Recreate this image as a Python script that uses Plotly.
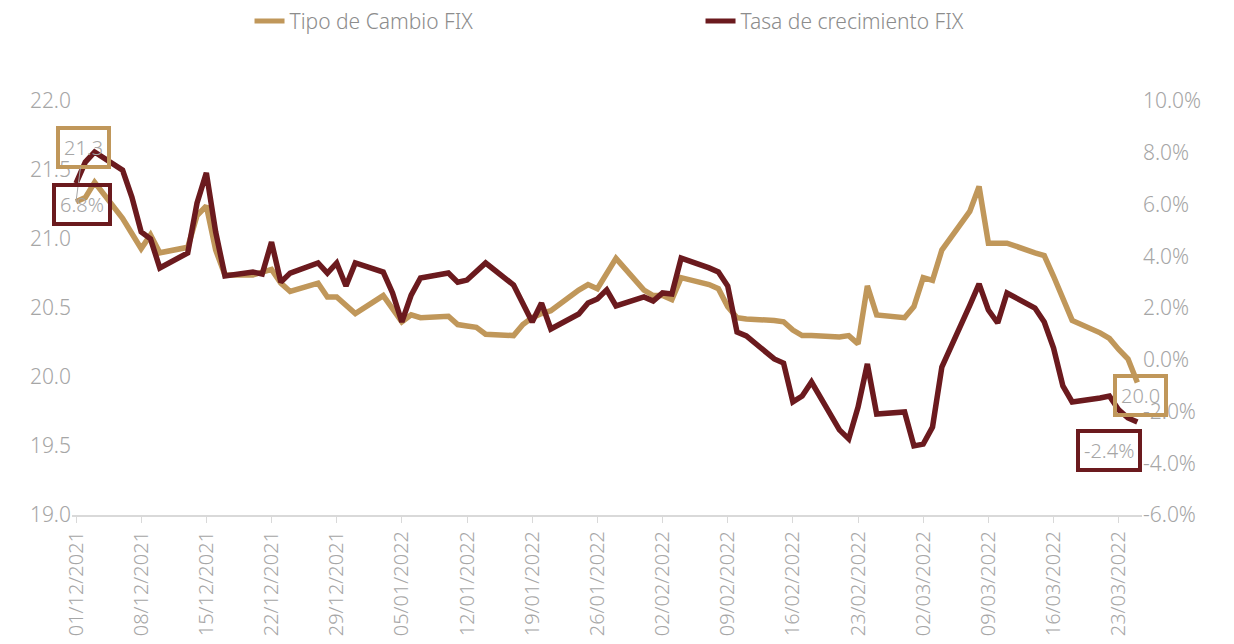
import pandas as pd
import plotly.graph_objects as go

# business days shown on the chart (01/12/2021 - 25/03/2022)
fechas = pd.bdate_range("2021-12-01", "2022-03-25")

tipo_cambio = [
    # dic 2021
    21.27, 21.30, 21.41, 21.15, 21.04, 20.93, 21.03, 20.90, 20.94, 21.17,
    21.24, 20.92, 20.74, 20.74, 20.76, 20.78, 20.68, 20.62, 20.68, 20.58,
    20.58, 20.52, 20.46,
    # ene 2022
    20.59, 20.50, 20.40, 20.45, 20.43, 20.44, 20.38, 20.37, 20.36, 20.31,
    20.30, 20.38, 20.43, 20.46, 20.48, 20.63, 20.67, 20.64, 20.76, 20.86,
    20.63,
    # feb 2022
    20.59, 20.59, 20.56, 20.72, 20.67, 20.64, 20.51, 20.43, 20.42, 20.41,
    20.40, 20.34, 20.30, 20.30, 20.29, 20.30, 20.24, 20.66, 20.45, 20.43,
    # mar 2022
    20.51, 20.72, 20.70, 20.92, 21.20, 21.38, 20.97, 20.97, 20.97, 20.90,
    20.88, 20.73, 20.57, 20.41, 20.32, 20.28, 20.20, 20.13, 19.96,
]

tasa_crecimiento = [
    # dic 2021
    6.82, 7.64, 8.03, 7.33, 6.29, 4.94, 4.67, 3.55, 4.13, 6.06,
    7.22, 4.94, 3.24, 3.39, 3.31, 4.55, 3.00, 3.35, 3.74, 3.35,
    3.74, 2.85, 3.74,
    # ene 2022
    3.39, 2.58, 1.46, 2.50, 3.16, 3.35, 3.00, 3.08, 3.43, 3.74,
    2.89, 2.12, 1.46, 2.19, 1.19, 1.77, 2.19, 2.35, 2.70, 2.08,
    2.43,
    # feb 2022
    2.27, 2.58, 2.54, 3.93, 3.55, 3.39, 2.85, 1.07, 0.92, 0.03,
    -0.13, -1.63, -1.40, -0.86, -2.71, -3.06, -1.83, -0.16, -2.10, -2.02,
    # mar 2022
    -3.33, -3.26, -2.60, -0.28, 2.10, 2.93, 1.92, 1.42, 2.58, 2.00,
    1.46, 0.45, -1.01, -1.63, -1.48, -1.40, -1.94, -2.25, -2.41,
]

# axis ticks
ticks_tc = [19.0, 19.5, 20.0, 20.5, 21.0, 21.5, 22.0]
ticks_tasa = [-6, -4, -2, 0, 2, 4, 6, 8, 10]

TAN = "#C0975A"
WINE = "#6B1A1E"
GREY = "#A6A6A6"
FONT = "Noto Sans"

fig = go.Figure()

fig.add_trace(go.Scatter(
    x=fechas, y=tipo_cambio, name="Tipo de Cambio FIX",
    mode="lines", line=dict(color=TAN, width=5.5),
))
fig.add_trace(go.Scatter(
    x=fechas, y=tasa_crecimiento, name="Tasa de crecimiento FIX",
    mode="lines", line=dict(color=WINE, width=5.5), yaxis="y2",
))

label_font = dict(family=FONT, size=20, color=GREY, weight=300)
annotations = [
    # first value of the exchange rate, with a thin leader line
    dict(x=fechas[0], y=tipo_cambio[0], xref="x", yref="y",
         text=f"{tipo_cambio[0]:.1f}", showarrow=True, arrowhead=0,
         arrowwidth=1, arrowcolor=GREY, ax=7, ay=-54, standoff=0,
         bordercolor=TAN, borderwidth=4, borderpad=4, font=label_font),
    dict(x=fechas[0], y=tasa_crecimiento[0], xref="x", yref="y2",
         text=f"{tasa_crecimiento[0]:.1f}%", showarrow=False,
         xshift=6, yshift=-21,
         bordercolor=WINE, borderwidth=4, borderpad=4, font=label_font),
    dict(x=fechas[-1], y=tipo_cambio[-1], xref="x", yref="y",
         text=f"{tipo_cambio[-1]:.1f}", showarrow=False,
         xshift=3, yshift=-13,
         bordercolor=TAN, borderwidth=4, borderpad=4, font=label_font),
    dict(x=fechas[-1], y=tasa_crecimiento[-1], xref="x", yref="y2",
         text=f"{tasa_crecimiento[-1]:.1f}%", showarrow=False,
         xshift=-28, yshift=-28,
         bordercolor=WINE, borderwidth=4, borderpad=4, font=label_font),
]

# the page body adds an 8 px margin, so the figure is drawn 8 px smaller
fig.update_layout(
    width=1226, height=636,
    margin=dict(l=64, r=92, t=93, b=129, autoexpand=False),
    paper_bgcolor="white", plot_bgcolor="white",
    font=dict(family=FONT, color=GREY),
    showlegend=True,
    legend=dict(
        orientation="h", xref="container", yref="container",
        x=0.197, xanchor="left", y=0.979, yanchor="middle",
        entrywidth=406, entrywidthmode="pixels",
        tracegroupgap=0, itemsizing="constant",
        font=dict(family=FONT, size=21, color="#8C8C8C", weight=300),
    ),
    xaxis=dict(
        type="date", automargin=False,
        range=["2021-11-30 13:40", "2022-03-25 12:00"],
        tick0="2021-12-01", dtick=7 * 24 * 3600 * 1000,
        tickformat="%d/%m/%Y", tickangle=-90,
        ticks="outside", ticklen=6, tickcolor="#D9D9D9",
        showline=True, linecolor="#D9D9D9", linewidth=2,
        showgrid=False, zeroline=False,
        tickfont=dict(family=FONT, size=20, color=GREY, weight=300),
    ),
    yaxis=dict(
        range=[19, 22], automargin=False,
        tickvals=ticks_tc, ticktext=[f"{v:.1f}" for v in ticks_tc],
        showgrid=False, zeroline=False, showline=False,
        ticks="", tickfont=dict(family=FONT, size=21, color=GREY, weight=300),
    ),
    yaxis2=dict(
        overlaying="y", side="right", automargin=False,
        range=[-6, 10],
        tickvals=ticks_tasa, ticktext=[f"{v:.1f}%" for v in ticks_tasa],
        showgrid=False, zeroline=False, showline=False,
        ticks="", tickfont=dict(family=FONT, size=21, color=GREY, weight=300),
    ),
    annotations=annotations,
)

fig.write_html("out.html")
